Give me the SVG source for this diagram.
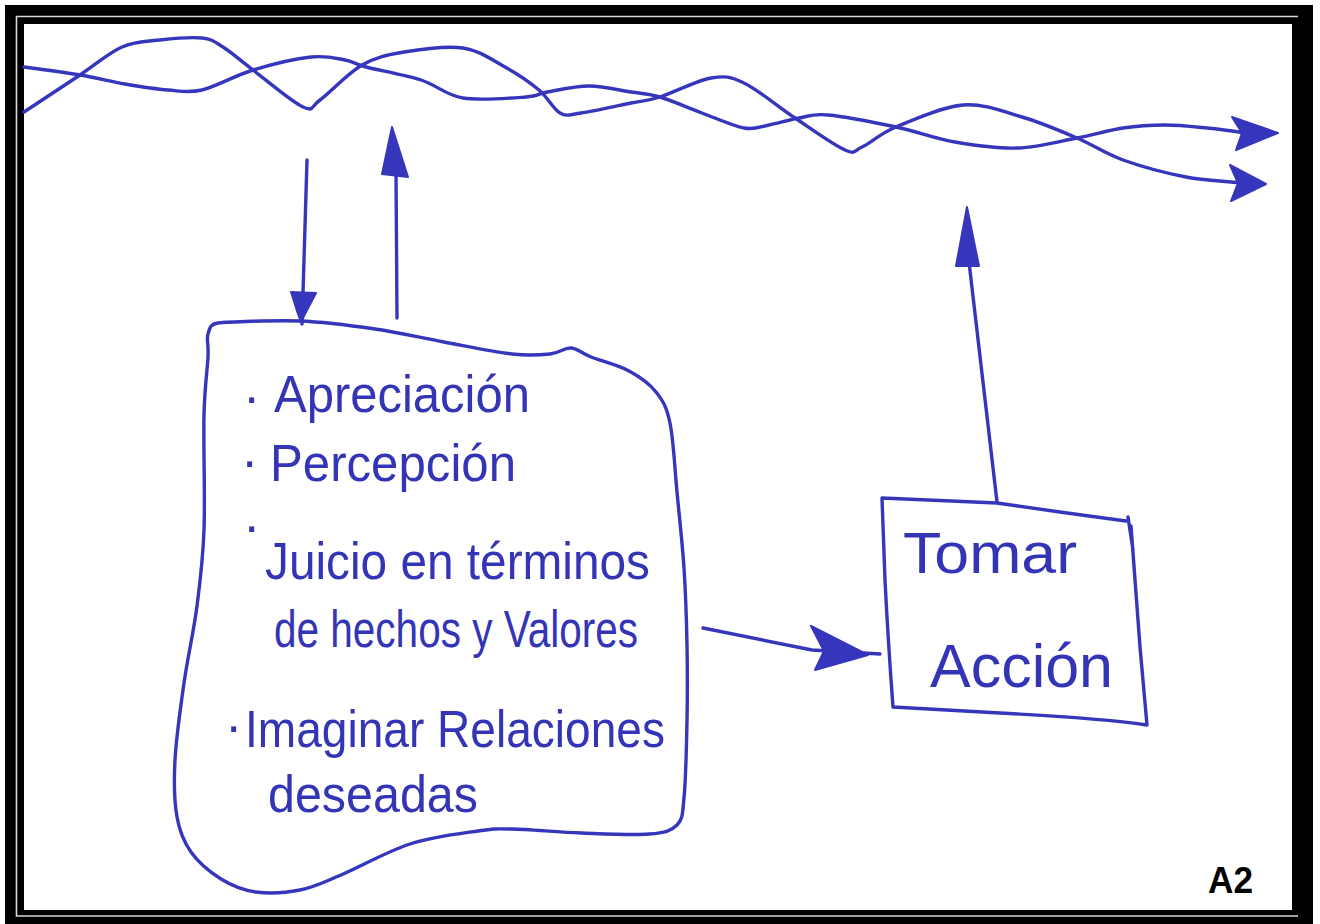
<svg xmlns="http://www.w3.org/2000/svg" width="1320" height="924" viewBox="0 0 1320 924">
  <style>
    .ink { fill: none; stroke: #3636bd; stroke-width: 3.4; stroke-linecap: round; stroke-linejoin: round; }
    .head { fill: #3636bd; stroke: #3636bd; stroke-width: 2; stroke-linejoin: round; }
    .hand { font-family: "Liberation Sans", "DejaVu Sans", sans-serif; fill: #3434b6; }
    .body { font-size: 52px; }
    .tag { font-family: "Liberation Sans", Arial, sans-serif; font-weight: bold; font-size: 36px; fill: #000; }
  </style>

  <!-- page and heavy double frame -->
  <rect x="0" y="0" width="1320" height="924" fill="#ffffff"/>
  <rect x="5" y="5" width="1308" height="919" fill="#000000"/>
  <rect x="24" y="24" width="1268" height="886" fill="#ffffff"/>
  <polyline points="1298,16.5 16.5,16.5 16.5,916 1298,916" fill="none" stroke="#d8d8d8" stroke-width="1.6"/>

  <!-- intertwined flow strands along the top -->
  <g id="flow">
    <path class="ink" d="M24,112 C24,112 63.7,85.8 80,75 S108.7,52.8 122,47 S146.7,41.5 160,40 S191.5,36.8 202,38 S214.5,41.7 223,47 S239.7,60 253,70 S291.8,102 303,107 S310.2,107 320,100 S348,73 362,65 S387.2,54.8 404,52 S446.2,45.5 463,48 S492.3,60 505,67 S529.8,82.3 539,90 S553,109.2 560,113 S569.2,114.7 581,113 S617.8,105.7 631,103 S646.7,101.2 660,97 S697,80.3 711,78 S730,76.3 744,83 S778.2,106.8 795,118 S833.8,145.2 845,150 S853.5,150.8 862,147 S879.2,134 896,127 S942,106.7 963,105 S1003,111.5 1022,117 S1060.2,130.8 1077,138 S1104.8,153.5 1123,160 S1166.3,173.2 1186,177 S1225,181 1241,183"/>
    <path class="ink" d="M24,67 C24,67 63.2,72.2 80,75 S110.3,81.5 125,84 S155.2,89 168,90 S187.8,93.3 202,90 S234.8,75.5 253,70 S295.7,58.7 311,57 S335.8,58.3 345,60 S353.3,63.7 366,67 S404.8,74.8 421,80 S445.5,95.2 463,98 S512,98 526,97 S536.5,93.8 547,92 S575,86 589,86 S619.2,90.2 631,92 S648.2,93.5 660,97 S688,107.8 702,113 S732.8,126 744,128 S759.8,126.7 769,125 S789.2,119.7 799,118 S811.8,113.5 828,115 S874.8,122.5 896,127 S934.7,138.5 955,142 S997.7,148.7 1018,148 S1059.5,141.3 1077,138 S1108.3,130.2 1123,128 S1151,125 1165,125 S1193.7,126.7 1207,128 S1232,131 1245,133"/>
    <polygon class="head" points="1232,117 1278,133 1236,150 1242,133"/>
    <polygon class="head" points="1230,165 1266,184 1231,201 1238,183"/>
  </g>

  <!-- thinking blob -->
  <g id="node-reflexion">
    <path class="ink" d="M208,334 C209.7,328.3 210,324 218,323 S273.8,320 300,321 S351,325.5 375,329 S421.2,337.8 444,342 S494.3,352 512,354 S540.2,355 550,354 S564.2,347.5 571,348 S581.3,353.2 591,357 S618.2,365.2 629,371 S649.2,383.3 656,392 S666.5,406.3 670,423 S674.7,467.8 677,492 S682.3,542.5 684,568 S686.5,619.5 687,645 S687.5,695.5 687,721 S685.7,780.7 684,798 S682.8,819 677,825 S665,832.7 649,834 S603.8,833.8 581,833 S529.2,829.3 512,829 S495,828.5 478,831 S432.8,836.7 410,844 S359.3,867.3 341,875 S314.2,887.2 300,890 S269.2,893.8 256,892 S231.8,885.7 221,879 S198.3,862.3 191,852 S179.7,832.3 177,817 S173.8,782.3 175,760 S180.3,708.7 184,683 S193.7,631.5 197,606 S202.8,561.8 204,530 S203.3,443.8 204,415 S207.3,370.5 208,357 S206.3,339.7 208,334 Z"/>
    <text class="hand body" x="243" y="414">·</text>
    <text class="hand body" x="274" y="412" textLength="256" lengthAdjust="spacingAndGlyphs">Apreciación</text>
    <text class="hand body" x="241" y="478">·</text>
    <text class="hand body" x="270" y="481" textLength="246" lengthAdjust="spacingAndGlyphs">Percepción</text>
    <text class="hand body" x="243" y="543">·</text>
    <text class="hand body" x="265" y="579" textLength="385" lengthAdjust="spacingAndGlyphs">Juicio en términos</text>
    <text class="hand body" x="274" y="647" textLength="364" lengthAdjust="spacingAndGlyphs">de hechos y Valores</text>
    <text class="hand body" x="225" y="743">·</text>
    <text class="hand body" x="245" y="747" textLength="420" lengthAdjust="spacingAndGlyphs">Imaginar Relaciones</text>
    <text class="hand body" x="268" y="812" textLength="210" lengthAdjust="spacingAndGlyphs">deseadas</text>
  </g>

  <!-- action box -->
  <g id="node-accion">
    <path class="ink" d="M882,498 L997,503 L1067,513 L1126,521 M1128,517 L1133,550 M1131,526 Q1138,620 1140,647 L1147,725 Q1100,718 1000,713 L893,707 Q888,640 885,580 L882,498"/>
    <text class="hand" x="903" y="573" font-size="58" textLength="174" lengthAdjust="spacingAndGlyphs">Tomar</text>
    <text class="hand" x="930" y="687" font-size="62" textLength="183" lengthAdjust="spacingAndGlyphs">Acción</text>
  </g>

  <!-- connectors -->
  <g id="connectors">
    <!-- world to blob -->
    <path class="ink" d="M307,160 L303,293 L302,324"/>
    <polygon class="head" points="291,292 316,293 305,314 301,322 298,314"/>
    <!-- blob to world -->
    <path class="ink" d="M397,318 L396,172"/>
    <polygon class="head" points="392,127 408,177 382,174"/>
    <!-- blob to action -->
    <path class="ink" d="M703,628 L812,650 L880,654"/>
    <polygon class="head" points="811,626 868,655 815,670 824,651"/>
    <!-- action to world -->
    <path class="ink" d="M997,502 L969,262"/>
    <polygon class="head" points="967,207 979,266 956,266"/>
  </g>

  <text class="tag" x="1208" y="893" textLength="45" lengthAdjust="spacingAndGlyphs">A2</text>
</svg>
